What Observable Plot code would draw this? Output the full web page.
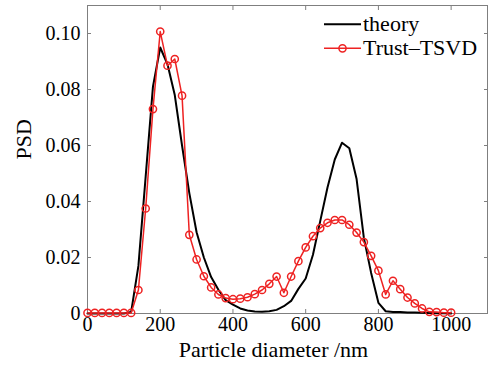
<!DOCTYPE html>
<html><head><meta charset="utf-8">
<script src="https://cdn.jsdelivr.net/npm/d3@7"></script>
<script src="https://cdn.jsdelivr.net/npm/@observablehq/plot@0.6"></script>
<style>html,body{margin:0;padding:0;background:#fff} svg{display:block}
svg text{font-family:'Liberation Serif','Times New Roman',serif !important;}</style>
</head><body><div id="chart"></div>
<script>
const diameter = [0,20,40,60,80,100,120,140,160,180,200,220,240,260,280,300,320,340,360,380,400,420,440,460,480,500,520,540,560,580,600,620,640,660,680,700,720,740,760,780,800,820,840,860,880,900,920,940,960,980,1000];
const theory = [0,0,0,0,0,0,0.0005,0.017,0.049,0.081,0.095,0.089,0.078,0.060,0.043,0.029,0.020,0.013,0.0085,0.0048,0.0032,0.0018,0.0011,0.0007,0.0006,0.0008,0.0013,0.0026,0.0045,0.0088,0.0125,0.021,0.033,0.045,0.055,0.061,0.059,0.048,0.027,0.0145,0.0038,0.0008,0.0005,0.0005,0.0004,0.0004,0.0003,0.0002,0.0001,0.0001,0];
const trustTSVD = [0.0002,0.0002,0.0002,0.0002,0.0002,0.0002,0.0002,0.0084,0.0375,0.073,0.1007,0.0885,0.0909,0.0778,0.0281,0.0193,0.0133,0.0093,0.0068,0.0055,0.0051,0.0053,0.0058,0.0069,0.0084,0.0106,0.0132,0.0074,0.0132,0.0187,0.0236,0.0276,0.0305,0.0324,0.0334,0.0334,0.0317,0.0289,0.0255,0.0206,0.0153,0.0068,0.0117,0.0087,0.0057,0.0036,0.0018,0.0006,0.0005,0.0003,0.0003];
const xTicks = [0,200,400,600,800,1000];
const xTickLabels = ["0","200","400","600","800","1000"];
const yTicks = [0,0.02,0.04,0.06,0.08,0.10];
const yTickLabels = ["0","0.02","0.04","0.06","0.08","0.10"];
const seriesNames = ["theory","Trust\u2013TSVD"];
const xLabel = "Particle diameter /nm";
const yLabel = "PSD";

const rows = diameter.map((d,i)=>({d, theory: theory[i], trust: trustTSVD[i]}));
const xFmt = new Map(xTicks.map((t,i)=>[t,xTickLabels[i]]));
const yFmt = new Map(yTicks.map((t,i)=>[t,yTickLabels[i]]));
const font = "'Liberation Serif','Times New Roman',serif";
const RED = "#ee2222";
const AX = "#7f7f7f";

const svg = Plot.plot({
  width: 499, height: 373,
  marginLeft: 87, marginRight: 12, marginTop: 5, marginBottom: 60,
  style: {fontFamily: font, fontSize: "20px", background: "#fff", color: "#000"},
  x: {domain: [0, 1100]},
  y: {domain: [0, 0.11]},
  marks: [
    Plot.frame({stroke: AX}),
    Plot.axisX(xTicks, {anchor: "bottom", tickSize: -4, stroke: AX, tickFormat: () => "", label: null}),
    Plot.axisX(xTicks, {anchor: "top", tickSize: -4, stroke: AX, tickFormat: () => "", label: null}),
    Plot.axisY(yTicks, {anchor: "left", tickSize: -4, stroke: AX, tickFormat: () => "", label: null}),
    Plot.axisY(yTicks, {anchor: "right", tickSize: -4, stroke: AX, tickFormat: () => "", label: null}),
    Plot.axisX(xTicks, {anchor: "bottom", tickSize: 0, tickPadding: 3, tickFormat: d => xFmt.get(d), label: null, fontSize: 20, fontFamily: font, fontVariant: "normal", fill: "#000"}),
    Plot.axisY(yTicks, {anchor: "left", tickSize: 0, tickPadding: 7, tickFormat: d => yFmt.get(d), label: null, fontSize: 20, fontFamily: font, fontVariant: "normal", fill: "#000"}),
    Plot.text([xLabel], {frameAnchor: "bottom", dx: -14, dy: 43.6, fontSize: 22, fontFamily: font, fill: "#000"}),
    Plot.text([yLabel], {frameAnchor: "left", dx: -64, rotate: -90, fontSize: 22, fontFamily: font, fill: "#000"}),
    Plot.line(rows, {x: "d", y: "theory", stroke: "#000", strokeWidth: 2}),
    Plot.line(rows, {x: "d", y: "trust", stroke: RED, strokeWidth: 1.5}),
    Plot.dot(rows, {x: "d", y: "trust", r: 3.6, stroke: RED, strokeWidth: 1.5, fill: "none"})
  ]
});
document.getElementById("chart").appendChild(svg);

// legend inside top-right
const g = d3.select(svg).append("g").attr("font-family", font).attr("font-size", 22).attr("text-anchor", "start");
const leg = [{name: seriesNames[0], color: "#000", w: 2, marker: false, y: 24.3},
             {name: seriesNames[1], color: RED, w: 1.5, marker: true, y: 48.3}];
leg.forEach(l => {
  g.append("line").attr("x1", 324).attr("x2", 361).attr("y1", l.y).attr("y2", l.y)
    .attr("stroke", l.color).attr("stroke-width", l.w);
  if (l.marker) g.append("circle").attr("cx", 342.5).attr("cy", l.y).attr("r", 3.6)
    .attr("fill", "none").attr("stroke", l.color).attr("stroke-width", 1.5);
  g.append("text").attr("x", 363).attr("y", l.y).attr("dy", "0.32em").attr("fill", "#000")
    .attr("text-anchor", "start").text(l.name);
});
</script></body></html>
